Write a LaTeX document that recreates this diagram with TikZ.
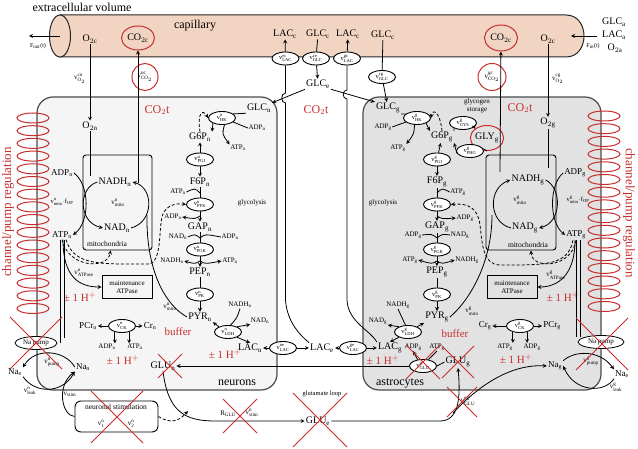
\documentclass[tikz,border=0pt]{standalone}
\usepackage[no-math]{fontspec}
\setmainfont{Liberation Serif}
\usepackage{amsmath}
\usetikzlibrary{shapes.geometric, arrows}
\definecolor{capcol}{RGB}{242,212,194}
\definecolor{ncol}{RGB}{245,245,245}
\definecolor{gcol}{RGB}{226,226,226}
\definecolor{rmark}{RGB}{200,45,45}
\newcommand{\spc}[2]{#1$_{\text{#2}}$}
\newcommand{\rate}[2]{v$^{\text{#1}}_{\text{#2}}$}
\tikzstyle{spec} = [font=\fontsize{10}{11}\selectfont, inner sep=1pt]
\tikzstyle{cofac} = [font=\fontsize{7}{8}\selectfont, inner sep=0.5pt]
\tikzstyle{rxn} = [ellipse, draw=black, fill=white, line width=0.9pt, minimum width=27pt, minimum height=13pt, inner sep=0pt, font=\fontsize{6.5}{7}\selectfont]
\tikzstyle{cellbox} = [draw=black!70, line width=1.2pt, rounded corners=16pt]
\tikzstyle{mitobox} = [rectangle, draw=black, line width=0.9pt, rounded corners=3pt]
\tikzstyle{boxnode} = [rectangle, draw=black, line width=0.9pt, font=\fontsize{7}{8}\selectfont, align=center, minimum width=50pt, minimum height=23pt, inner sep=1pt]
\tikzstyle{pumpnode} = [ellipse, draw=black, fill=white, line width=0.8pt, minimum width=42pt, minimum height=13pt, inner sep=0pt, font=\fontsize{7}{8}\selectfont]
\tikzstyle{redtext} = [text=rmark, font=\fontsize{11}{12}\selectfont, inner sep=1pt]
\tikzstyle{ring} = [ellipse, draw=rmark, line width=1pt, inner sep=0pt]
\tikzstyle{coil} = [draw=rmark, line width=1pt]
\tikzstyle{xmark} = [draw=rmark, line width=1pt]
\tikzstyle{conn} = [line width=0.8pt]
\tikzstyle{arrow} = [line width=0.8pt, ->, >=stealth]
\tikzstyle{dasharrow} = [arrow, densely dashed]

\begin{document}
\begin{tikzpicture}[x=1pt, y=-1pt, node distance=22.5pt]
\useasboundingbox (0,0) rectangle (638,449);

% cells
\draw[cellbox, fill=ncol] (37,97) rectangle (277,390);
\draw[cellbox, fill=gcol] (363,97) rectangle (601,390);

% capillary
\draw[fill=capcol, draw=black!85, line width=1pt] (60,15) -- (566,15) .. controls (590,15) and (590,57) .. (566,57) -- (60,57) -- cycle;
\draw[fill=capcol, draw=black!85, line width=1pt] (60,36) ellipse (10.5 and 21);

% channel coils
\foreach \k in {0,...,15} {
  \draw[coil] (33,118+12.7*\k) ellipse (16 and 5);
  \draw[coil] (604,116+12.7*\k) ellipse (16 and 5);
}
\node (regn) [redtext, font=\fontsize{13}{14}\selectfont, rotate=90] at (8,212) {channel/pump regulation};
\node (regg) [redtext, font=\fontsize{13}{14}\selectfont, rotate=-90] at (629,213) {channel/pump regulation};

% capillary labels
\node (extra) [font=\fontsize{12}{13}\selectfont] at (82,7) {extracellular volume};
\node (caplab) [font=\fontsize{12}{13}\selectfont] at (195,26) {capillary};
\coordinate (capL) at (60,36);
\coordinate (outend) at (29,36);
\coordinate (inst) at (597,36);
\coordinate (inend) at (571,36);
\node (fout) [cofac, font=\fontsize{6}{7}\selectfont] at (38,46) {F$_{\text{out}}$(t)};
\node (fin) [cofac, font=\fontsize{6}{7}\selectfont] at (593,46) {F$_{\text{in}}$(t)};
\node (glca) [spec] at (614,22) {\spc{GLC}{a}};
\node (laca) [spec] at (614,35) {\spc{LAC}{a}};
\node (o2a) [spec] at (615,48) {O$_{2\text{a}}$};
\node (o2c1) [spec] at (90,39) {O$_{2\text{c}}$};
\node (co2c1) [spec, ring, minimum width=33pt, minimum height=24pt] at (138,38) {CO$_{2\text{c}}$};
\node (lacc1) [spec] at (285,34) {\spc{LAC}{c}};
\node (glcc1) [spec] at (318,34) {\spc{GLC}{c}};
\node (lacc2) [spec] at (348,34) {\spc{LAC}{c}};
\node (glcc2) [spec] at (383,35) {\spc{GLC}{c}};
\node (co2c2) [spec, ring, minimum width=33pt, minimum height=26pt] at (501,38) {CO$_{2\text{c}}$};
\node (o2c2) [spec] at (548,39) {O$_{2\text{c}}$};

% exchanges with the capillary
\node (tlac1) [rxn] at (285.5,58.5) {\rate{ec}{LAC}};
\node (tglc1) [rxn] at (316,58.5) {\rate{ce}{GLC}};
\node (tlac2) [rxn] at (347,58.5) {\rate{gc}{LAC}};
\node (tglc2) [rxn] at (382,77) {\rate{cg}{GLC}};
\node (glce) [spec] at (318,84) {\spc{GLC}{e}};
\node (o2n) [spec] at (90,126) {O$_{2\text{n}}$};
\node (vo2n) [cofac] at (80,79) {\rate{cn}{O$_2$}};
\node (vco2n) [cofac, ring, minimum width=26pt, minimum height=27pt] at (145,77) {\rate{nc}{CO$_2$}};
\node (o2g) [spec] at (548,123) {O$_{2\text{g}}$};
\node (vo2g) [cofac] at (558,79) {\rate{cg}{O$_2$}};
\node (vco2g) [cofac, ring, minimum width=28pt, minimum height=27pt] at (492,77) {\rate{gc}{CO$_2$}};
\node (co2tn) [redtext, font=\fontsize{12}{13}\selectfont] at (157,110) {CO$_2$t};
\node (co2tm) [redtext, font=\fontsize{12}{13}\selectfont] at (316,110) {CO$_2$t};
\node (co2tg) [redtext, font=\fontsize{12}{13}\selectfont] at (520,108) {CO$_2$t};

% neuron glycolysis
\node (glcn) [spec] at (259,108) {\spc{GLC}{n}};
\node (hkn) [rxn] at (222,118) {\rate{n}{HK}};
\node (adpn1) [cofac] at (257,128) {\spc{ADP}{n}};
\node (atpn1) [cofac] at (238,148) {\spc{ATP}{n}};
\node (g6pn) [spec] at (200,137) {\spc{G6P}{n}};
\node (pgin) [rxn, below of=g6pn] {\rate{n}{PGI}};
\node (f6pn) [spec, below of=pgin] {\spc{F6P}{n}};
\node (pfkn) [rxn, below of=f6pn] {\rate{n}{PFK}};
\node (gapn) [spec, below of=pfkn] {\spc{GAP}{n}};
\node (pgkn) [rxn, below of=gapn] {\rate{n}{PGK}};
\node (pepn) [spec, below of=pgkn] {\spc{PEP}{n}};
\node (pkn) [rxn, below of=pepn] {\rate{n}{PK}};
\node (pyrn) [spec, below of=pkn] {\spc{PYR}{n}};
\node (atpn2) [cofac] at (178,192) {\spc{ATP}{n}};
\node (adpn2) [cofac] at (173,217) {\spc{ADP}{n}};
\node (nadn1) [cofac] at (178,237) {\spc{NAD}{n}};
\node (adpn3) [cofac] at (230,237) {\spc{ADP}{n}};
\node (nadhn1) [cofac] at (172,261) {\spc{NADH}{n}};
\node (atpn3) [cofac] at (230,261) {\spc{ATP}{n}};
\node (glycn) [cofac] at (252,203) {glycolysis};
\coordinate (pfkinn) at (200,193);
\coordinate (pfkoutn) at (200,216);
\coordinate (pgkinn) at (200,238);
\coordinate (pgkoutn) at (200,261);

% neuron mitochondria
\node (miton) [mitobox, minimum width=69pt, minimum height=95pt] at (117.5,202.5) {};
\node (nadhn) [spec] at (115,182) {\spc{NADH}{n}};
\node (nadn) [spec] at (117,228) {\spc{NAD}{n}};
\node (vmiton) [cofac] at (118,203) {\rate{n}{mito}};
\node (mitolabn) [cofac, font=\fontsize{7.5}{8}\selectfont] at (107,244) {mitochondria};
\node (adpn) [spec, font=\fontsize{9}{10}\selectfont] at (62,173) {\spc{ADP}{n}};
\node (atpn) [spec, font=\fontsize{9}{10}\selectfont] at (62,235) {\spc{ATP}{n}};
\node (vopn) [cofac, font=\fontsize{6.5}{7}\selectfont] at (62,202) {\rate{n}{mito}$\cdot$f$_{\text{OP}}$};
\node (vmitopn) [cofac] at (170,307) {\rate{n}{mito}};
\coordinate (co2outn) at (138,183);

% neuron ATP users
\node (atpasen) [boxnode] at (127,287) {maintenance\\ATPase};
\node (vatpn) [cofac] at (84,273) {\rate{n}{ATPase}};
\node (ckn) [rxn] at (122,326) {\rate{n}{CK}};
\node (pcrn) [spec, font=\fontsize{9}{10}\selectfont] at (88,326) {\spc{PCr}{n}};
\node (crn) [spec, font=\fontsize{9}{10}\selectfont] at (150,326) {\spc{Cr}{n}};
\node (adpn4) [cofac] at (107,347) {\spc{ADP}{n}};
\node (atpn4) [cofac] at (135,347) {\spc{ATP}{n}};
\node (pumpn) [pumpnode] at (36,343) {Na pump};
\node (nae1) [spec, font=\fontsize{9}{10}\selectfont] at (15,372) {\spc{Na}{e}};
\node (nan) [spec, font=\fontsize{9}{10}\selectfont] at (83,367) {\spc{Na}{n}};
\node (vpumpn) [cofac] at (52,362) {\rate{n}{pump}};
\node (vleakn) [cofac] at (30,391) {\rate{n}{leak}};
\node (vstim) [cofac] at (70,394) {v$_{\text{stim}}$};

% neuron lactate
\node (nadhn2) [cofac] at (240,305) {\spc{NADH}{n}};
\node (ldhn) [rxn] at (228,332) {\rate{n}{LDH}};
\node (nadn2) [cofac] at (260,321) {\spc{NAD}{n}};
\node (lacn) [spec] at (250,348) {\spc{LAC}{n}};
\node (tlacn) [rxn] at (283,348) {\rate{ne}{LAC}};
\node (lace) [spec] at (322,348) {\spc{LAC}{e}};
\node (tlacg) [rxn] at (353,348) {\rate{ge}{LAC}};
\node (lacg) [spec] at (390,348) {\spc{LAC}{g}};

% astrocyte glycolysis
\node (glcg) [spec] at (388,108) {\spc{GLC}{g}};
\node (hkg) [rxn] at (417,118) {\rate{g}{HK}};
\node (adpg1) [cofac] at (383,127) {\spc{ADP}{g}};
\node (atpg1) [cofac] at (398,148) {\spc{ATP}{g}};
\node (g6pg) [spec] at (442,137) {\spc{G6P}{g}};
\node (pgig) [rxn] at (437,159.5) {\rate{g}{PGI}};
\node (f6pg) [spec, below of=pgig] {\spc{F6P}{g}};
\node (pfkg) [rxn, below of=f6pg] {\rate{g}{PFK}};
\node (gapg) [spec, below of=pfkg] {\spc{GAP}{g}};
\node (pgkg) [rxn, below of=gapg] {\rate{g}{PGK}};
\node (pepg) [spec, below of=pgkg] {\spc{PEP}{g}};
\node (pkg) [rxn, below of=pepg] {\rate{g}{PK}};
\node (pyrg) [spec, below of=pkg] {\spc{PYR}{g}};
\node (atpg2) [cofac] at (458,192) {\spc{ATP}{g}};
\node (adpg2) [cofac] at (465,218) {\spc{ADP}{g}};
\node (adpg3) [cofac] at (413,235) {\spc{ADP}{g}};
\node (nadg1) [cofac] at (460,235) {\spc{NAD}{g}};
\node (atpg3) [cofac] at (410,260) {\spc{ATP}{g}};
\node (nadhg1) [cofac] at (467,260) {\spc{NADH}{g}};
\node (glycg) [cofac] at (383,203) {glycolysis};
\coordinate (pfking) at (437,193);
\coordinate (pfkoutg) at (437,216);
\coordinate (pgking) at (437,238);
\coordinate (pgkoutg) at (437,261);

% glycogen
\node (storlab) [cofac, align=center] at (477,106) {glycogen\\storage};
\node (gysg) [rxn] at (463,123) {\rate{g}{GYS}};
\node (glyg) [spec, ring, minimum width=29pt, minimum height=25pt] at (487,138) {\spc{GLY}{g}};
\node (gpg) [rxn] at (470,151) {\rate{g}{PHG}};

% astrocyte mitochondria
\node (mitog) [mitobox, minimum width=70pt, minimum height=95pt] at (521,202.5) {};
\node (nadhg) [spec] at (528,180) {\spc{NADH}{g}};
\node (nadg) [spec] at (525,228) {\spc{NAD}{g}};
\node (vmitog) [cofac] at (520,200) {\rate{g}{mito}};
\node (mitolabg) [cofac, font=\fontsize{7.5}{8}\selectfont] at (528,245) {mitochondria};
\node (adpg) [spec, font=\fontsize{9}{10}\selectfont] at (575,173) {\spc{ADP}{g}};
\node (atpg) [spec, font=\fontsize{9}{10}\selectfont] at (576,235) {\spc{ATP}{g}};
\node (vopg) [cofac, font=\fontsize{6.5}{7}\selectfont] at (578,200) {\rate{g}{mito}$\cdot$f$_{\text{OP}}$};
\node (vmitopg) [cofac] at (472,311) {\rate{g}{mito}};
\coordinate (co2outg) at (500,172);

% astrocyte ATP users
\node (atpaseg) [boxnode] at (512,287) {maintenance\\ATPase};
\node (vatpg) [cofac] at (556,275) {\rate{g}{ATPase}};
\node (ckg) [rxn] at (520,326) {\rate{g}{CK}};
\node (crg) [spec, font=\fontsize{9}{10}\selectfont] at (485,326) {\spc{Cr}{g}};
\node (pcrg) [spec, font=\fontsize{9}{10}\selectfont] at (552,326) {\spc{PCr}{g}};
\node (atpg4) [cofac] at (505,347) {\spc{ATP}{g}};
\node (adpg4) [cofac] at (532,347) {\spc{ADP}{g}};
\node (pumpg) [pumpnode, minimum width=46pt] at (601,342) {Na pump};
\node (nag) [spec, font=\fontsize{9}{10}\selectfont] at (555,366) {\spc{Na}{g}};
\node (nae2) [spec, font=\fontsize{9}{10}\selectfont] at (622,374) {\spc{Na}{e}};
\node (vpumpg) [cofac] at (591,361) {\rate{g}{pump}};
\node (vleakg) [cofac] at (616,387) {\rate{g}{leak}};

% astrocyte lactate
\node (nadhg2) [cofac] at (398,305) {\spc{NADH}{g}};
\node (ldhg) [rxn] at (408,332) {\rate{g}{LDH}};
\node (nadg2) [cofac] at (378,321) {\spc{NAD}{g}};

% glutamate
\node (glun) [spec] at (163,366) {\spc{GLU}{n}};
\node (gsg) [rxn] at (423,366) {\rate{g}{GLU}};
\node (adpg5) [cofac] at (413,347) {\spc{ADP}{g}};
\node (atpg5) [cofac] at (437,347) {\spc{ATP}{g}};
\node (glug) [spec] at (458,362) {\spc{GLU}{g}};
\node (glue) [spec] at (318,421) {\spc{GLU}{e}};
\node (rglu) [cofac] at (228,414) {R$_{\text{GLU}}$};
\node (vstimn) [cofac] at (252,413) {\rate{n}{stim}};
\node (looplab) [cofac, font=\fontsize{6.5}{7}\selectfont] at (322,394) {glutamate loop};
\node (vegl) [cofac] at (468,401) {\rate{eg}{GLU}};
\node (stim) [rectangle, rounded corners=6pt, draw=black, line width=0.9pt, minimum width=83pt, minimum height=31pt] at (116.5,416.5) {};
\node (stimtxt) [cofac, font=\fontsize{7.5}{8}\selectfont] at (116,407) {neuronal stimulation};
\node (v1n) [cofac] at (101,424) {\rate{n}{1}};
\node (v2n) [cofac] at (131,424) {\rate{n}{2}};
\coordinate (stimhit) at (188,411);
\coordinate (nastart) at (453,413);

% red labels
\node (buffn) [redtext] at (178,332) {buffer};
\node (buffg) [redtext] at (455,334) {buffer};
\foreach \hx/\hy [count=\i] in {80/297, 123/360, 225/354, 383/360, 516/359, 563/297}
  \node (hp\i) [redtext] at (\hx,\hy) {± 1 H$^{+}$};
\node (neulab) [font=\fontsize{12}{13}\selectfont] at (237,383) {neurons};
\node (astlab) [font=\fontsize{12}{13}\selectfont] at (400,383) {astrocytes};

% capillary flows
\draw[arrow] (capL) -- (outend);
\draw[arrow] (inst) -- (inend);
\draw[arrow] (tlac1) -- (lacc1);
\draw[conn] (glcc1) -- (tglc1);
\draw[arrow] (tglc1) -- (glce);
\draw[arrow] (tlac2) -- (lacc2);
\draw[conn] (glcc2) -- (tglc2);
\draw[arrow] (tglc2) -- (glcg);
\draw[arrow] (glce.south west) -- (glcn.north east);
\draw[arrow] (glce.south east) -- (glcg.north west);
\draw[conn] (tlac1.south) -- (285.5,93) .. controls (280.5,93) and (280.5,103) .. (285.5,103) -- (285.5,300) .. controls (287,322) and (300,335) .. (lace.north west);
\draw[conn] (tlac2.south) -- (347,90) .. controls (342,90) and (342,99) .. (347,99) -- (347,300) .. controls (348,322) and (370,330) .. (lacg.north west);
\draw[arrow] (o2c1) -- (o2n);
\draw[conn] (o2n) -- (90,176);
\draw[arrow] (co2outn) -- (co2c1);
\draw[arrow] (o2c2) -- (o2g);
\draw[conn] (o2g) -- (548,168);
\draw[arrow] (co2outg) -- (co2c2);

% neuron glycolysis
\draw[conn] (glcn.south west) -- (hkn.20);
\draw[conn] (adpn1.west) -- (hkn.-20);
\draw[arrow] (hkn.-70) .. controls (222,134) .. (atpn1.north west);
\draw[arrow] (hkn.-150) -- (g6pn.north east);
\draw[dasharrow] (g6pn.north) .. controls (197,112) and (203,109) .. (hkn.west);
\draw[arrow] (pgin) -- (g6pn);
\draw[arrow] (pgin) -- (f6pn);
\draw[conn] (f6pn) -- (pfkn);
\draw[arrow] (pfkn) -- (gapn);
\draw[conn] (gapn) -- (pgkn);
\draw[arrow] (pgkn) -- (pepn);
\draw[conn] (pepn) -- (pkn);
\draw[arrow] (pkn) -- (pyrn);
\draw[conn] (atpn2.east) .. controls (195,188) .. (pfkinn);
\draw[arrow] (pfkoutn) .. controls (195,219) .. (adpn2.east);
\draw[conn] (nadn1.east) .. controls (195,234) .. (pgkinn);
\draw[conn] (adpn3.west) .. controls (205,234) .. (pgkinn);
\draw[arrow] (pgkoutn) .. controls (195,264) .. (nadhn1.east);
\draw[arrow] (pgkoutn) .. controls (205,264) .. (atpn3.west);

% neuron mitochondria
\draw[arrow] (nadhn.west) .. controls (78,188) and (78,222) .. (nadn.west);
\draw[arrow] (adpn.east) .. controls (90,185) and (90,222) .. (atpn.east);
\draw[arrow] (nadn.east) .. controls (154,222) and (154,188) .. (nadhn.east);
\draw[conn] (pyrn.west) .. controls (165,305) and (146,270) .. (147,215);
\draw[dasharrow] (atpn.south) .. controls (68,268) and (108,270) .. ([xshift=-7pt]miton.south);
\draw[dasharrow] ([xshift=4pt]atpn.south) .. controls (74,266) and (100,264) .. (148,264) .. controls (163,264) and (158,225) .. (163,214) .. controls (167,205) and (176,203) .. (pfkn.west);
\draw[arrow] ([xshift=1pt]atpn.south) .. controls (63,278) and (80,287) .. (atpasen.west);
\draw[conn] ([xshift=-2pt]atpn.south) -- ([xshift=-2pt]atpn.south |- pumpn.east);
\draw[conn] ([xshift=2pt]atpn.south) -- ([xshift=2pt]atpn.south |- pumpn.north east);
\draw[arrow] (ckn) -- (pcrn);
\draw[arrow] (ckn) -- (crn);
\draw[arrow] (ckn.-140) -- (ckn.-140 |- adpn4.north);
\draw[arrow] (ckn.-40) -- (ckn.-40 |- atpn4.north);

% neuron sodium
\draw[arrow] (nan.west) .. controls (65,350) and (35,347) .. (nae1.north east);
\draw[arrow] (nae1.south east) .. controls (35,394) and (62,394) .. (nan.south west);
\draw[arrow] (stim.west) .. controls (62,416) and (56,386) .. (nan.south west);

% lactate
\draw[arrow] (ldhn.150) -- (pyrn.south east);
\draw[arrow] (ldhn.30) -- (nadn2.south west);
\draw[conn] (nadhn2.south) .. controls (237,318) .. (ldhn.70);
\draw[arrow] (ldhn.-30) -- (lacn.north);
\draw[arrow] (tlacn) -- (lacn);
\draw[arrow] (tlacn) -- (lace);
\draw[arrow] (tlacg) -- (lace);
\draw[arrow] (tlacg) -- (lacg);
\draw[arrow] (ldhg.30) -- (pyrg.south west);
\draw[arrow] (ldhg.150) -- (nadg2.south east);
\draw[conn] (nadhg2.south) .. controls (402,318) .. (ldhg.110);
\draw[arrow] (ldhg.-150) -- (lacg.north);

% astrocyte glycolysis
\draw[conn] (glcg.south east) -- (hkg.160);
\draw[conn] (adpg1.east) -- (hkg.-160);
\draw[arrow] (hkg.-110) .. controls (414,134) .. (atpg1.north east);
\draw[arrow] (hkg.-30) -- (g6pg.north west);
\draw[dasharrow] (g6pg.north) .. controls (440,112) and (433,108) .. (hkg.east);
\draw[arrow] (pgig) -- (g6pg);
\draw[arrow] (pgig) -- (f6pg);
\draw[conn] (f6pg) -- (pfkg);
\draw[arrow] (pfkg) -- (gapg);
\draw[conn] (gapg) -- (pgkg);
\draw[arrow] (pgkg) -- (pepg);
\draw[conn] (pepg) -- (pkg);
\draw[arrow] (pkg) -- (pyrg);
\draw[conn] (atpg2.west) .. controls (442,188) .. (pfking);
\draw[arrow] (pfkoutg) .. controls (442,219) .. (adpg2.west);
\draw[conn] (adpg3.east) .. controls (432,234) .. (pgking);
\draw[conn] (nadg1.west) .. controls (442,234) .. (pgking);
\draw[arrow] (pgkoutg) .. controls (432,264) .. (atpg3.east);
\draw[arrow] (pgkoutg) .. controls (442,264) .. (nadhg1.west);
\draw[conn] (g6pg.north east) -- (gysg.-150);
\draw[arrow] (gysg.-20) -- (glyg.north west);
\draw[conn] (glyg.south) -- (gpg.10);
\draw[arrow] (gpg.-170) -- (g6pg.south east);

% astrocyte mitochondria
\draw[arrow] (nadg.west) .. controls (488,222) and (488,188) .. (nadhg.west);
\draw[arrow] (nadhg.east) .. controls (562,188) and (562,222) .. (nadg.east);
\draw[arrow] (adpg.west) .. controls (549,185) and (549,222) .. (atpg.west);
\draw[conn] (pyrg.east) .. controls (470,300) and (492,262) .. (492,215);
\draw[dasharrow] (atpg.south) .. controls (572,268) and (532,270) .. ([xshift=10pt]mitog.south);
\draw[dasharrow] ([xshift=-3pt]atpg.south) .. controls (568,266) and (545,265) .. (500,265) .. controls (482,265) and (482,240) .. (480,225) .. controls (478,208) and (468,203) .. (pfkg.east);
\draw[arrow] ([xshift=-1pt]atpg.south) .. controls (575,275) and (558,287) .. (atpaseg.east);
\draw[conn] (atpg.south) -- (atpg.south |- pumpg.north west);
\draw[conn] ([xshift=4pt]atpg.south) -- ([xshift=4pt]atpg.south |- pumpg.north west);
\draw[arrow] (ckg) -- (crg);
\draw[arrow] (ckg) -- (pcrg);
\draw[arrow] (ckg.-140) -- (ckg.-140 |- atpg4.north);
\draw[arrow] (ckg.-40) -- (ckg.-40 |- adpg4.north);

% astrocyte sodium
\draw[arrow] (nag.north east) .. controls (575,350) and (600,350) .. (nae2.north west);
\draw[arrow] (nae2.south west) .. controls (605,393) and (575,393) .. (nag.east);

% glutamate loop
\draw[arrow] (gsg.west) -- (glun.east);
\draw[conn] (glug.west) -- (gsg.east);
\draw[arrow] (gsg.130) -- (adpg5.south);
\draw[conn] (atpg5.south) -- (gsg.50);
\draw[arrow] (glun.south) .. controls (168,412) and (185,421) .. (215,421) -- (glue.west);
\draw[dasharrow] (stim.east) .. controls (172,425) and (180,420) .. (stimhit);
\draw[arrow] (glue.east) -- (440,421) .. controls (458,421) and (461,400) .. (glug.south);
\draw[arrow] (nastart) .. controls (480,384) and (512,364) .. (nag.west);

% removed parts
\foreach \cx/\cy/\cs in {36/343/26, 602/344/26, 117/417/26, 240/416/17, 320/420/27, 170/366/12, 423/362/17, 458/362/16, 462/402/15}
  \draw[xmark] (\cx-\cs,\cy-\cs) -- (\cx+\cs,\cy+\cs) (\cx-\cs,\cy+\cs) -- (\cx+\cs,\cy-\cs);
\end{tikzpicture}
\end{document}
